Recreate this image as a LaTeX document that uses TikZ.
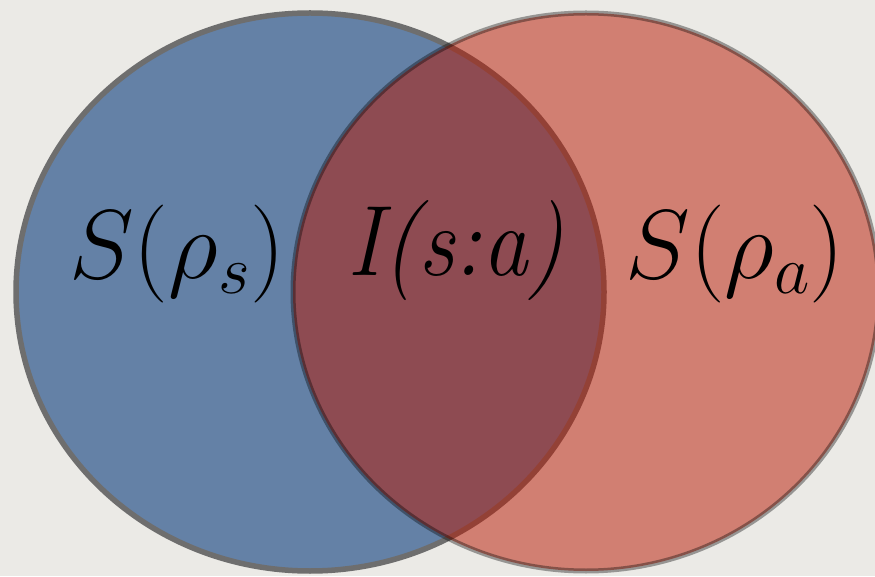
\RequirePackage{fix-cm}
\documentclass[tikz,border=0pt]{standalone}
\definecolor{paper}{HTML}{EBEAE6}
\definecolor{sblue}{HTML}{6481A6}
\definecolor{ared}{HTML}{B91600}
\definecolor{rimgrey}{HTML}{6E6E6E}
\tikzset{
  lbl/.style={anchor=base, inner sep=0pt, font=\fontsize{98}{110}\selectfont}
}
\begin{document}
\begin{tikzpicture}[x=1pt,y=1pt]
\useasboundingbox (0,0) rectangle (875,576);
\fill[paper] (0,0) rectangle (875,576);
%%%%%%%%% ellipse s
\filldraw[sblue, draw=rimgrey, line width=5.5pt] (310,284) ellipse (294 and 279);
%%%%%%%%% ellipse a
\fill[ared, fill opacity=0.5] (586,284) ellipse (293 and 279);
\draw[black, draw opacity=0.36, line width=5pt] (586,284) ellipse (293 and 279);
%%%%%%%%% labels
\node[lbl] (Ss) at (177,297) {$S(\rho_s)$};
\node[lbl, font=\fontsize{100}{110}\selectfont, xscale=0.91] (Isa) at (456,300) {\itshape I(s:a)};
\node[lbl] (Sa) at (735,297) {$S(\rho_a)$};
\end{tikzpicture}
\end{document}
